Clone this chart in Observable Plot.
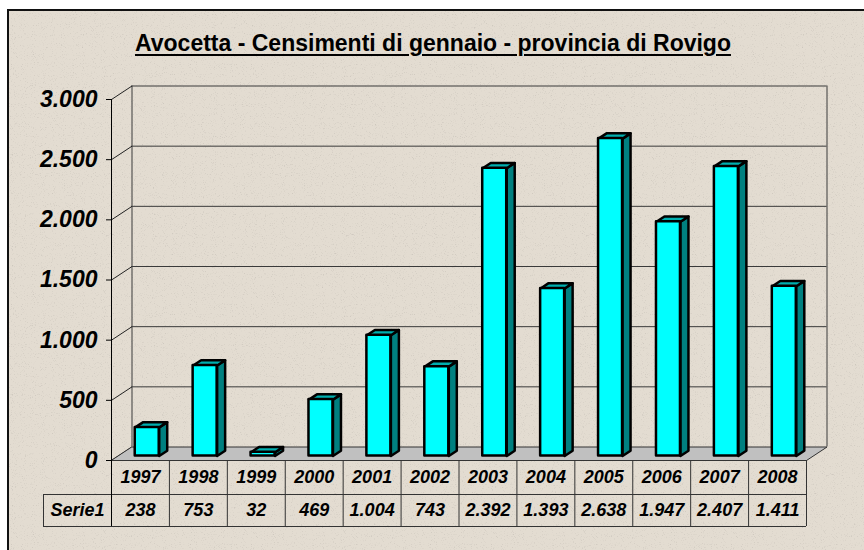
<!DOCTYPE html>
<html><head><meta charset="utf-8">
<script src="https://cdn.jsdelivr.net/npm/d3@7"></script>
<script src="https://cdn.jsdelivr.net/npm/@observablehq/plot@0.6"></script>
<style>
html,body{margin:0;padding:0;background:#fff;}
#wrap{position:relative;width:864px;height:550px;overflow:hidden;}
#frame{position:absolute;left:7px;top:9px;width:900px;height:600px;border-left:2px solid #111;border-top:2px solid #111;background-color:#E3DCD1;
background-image:url("data:image/svg+xml,%3Csvg xmlns='http://www.w3.org/2000/svg' width='240' height='240'%3E%3Cfilter id='n'%3E%3CfeTurbulence type='fractalNoise' baseFrequency='0.9' numOctaves='2' seed='7'/%3E%3CfeColorMatrix type='matrix' values='0 0 0 0 0.45 0 0 0 0 0.42 0 0 0 0 0.38 3 0 0 0 -1.75'/%3E%3C/filter%3E%3Crect width='100%25' height='100%25' filter='url(%23n)' opacity='0.5'/%3E%3C/svg%3E");}
#title{position:absolute;left:0;width:866px;top:30px;line-height:23px;text-align:center;font:bold 23px "Liberation Sans",Arial,sans-serif;color:#000;text-decoration:underline;text-decoration-thickness:2px;text-underline-offset:3px;}
#chart{position:absolute;left:0;top:0;}
</style>
</head><body>
<div id="wrap"><div id="frame"></div><div id="title">Avocetta - Censimenti di gennaio - provincia di Rovigo</div><div id="chart"></div></div>
<script>
// ---- data ----
const years = ["1997","1998","1999","2000","2001","2002","2003","2004","2005","2006","2007","2008"];
const counts = [238, 753, 32, 469, 1004, 743, 2392, 1393, 2638, 1947, 2407, 1411];
const yTicks = [0, 500, 1000, 1500, 2000, 2500, 3000];
const seriesName = "Serie1";

// ---- layout ----
const W = 864, H = 550, mL = 111, mR = 58, mT = 99, mB = 90;
const n = years.length;
const colW = (W - mL - mR) / n;          // px per category
const kY = (H - mT - mB) / 3000;          // px per unit
const DX = 20.5 / colW, DY = 13.5 / kY;   // depth offset in data units
const t0 = 0.33, t1 = 0.72;               // bar depth position
const hw = 12 / colW;                     // half bar width
const row1Bottom = -34 / kY, row2Bottom = -66 / kY;
const row1Text = -17 / kY, row2Text = -50 / kY;
const serieLeft = -68 / colW;

const fmt = d3.formatLocale({decimal: ",", thousands: ".", grouping: [3], currency: ["€", ""]}).format(",d");

const idx = d3.range(n);
const P = (i, v, t) => ({x: i + t * DX, y: v + t * DY});

const floorPts = [P(0,0,0), P(n,0,0), P(n,0,1), P(0,0,1)];
const sidePts = idx.flatMap(i => {
  const xr = i + 0.5 + hw, v = counts[i];
  return [P(xr,0,t0), P(xr,0,t1), P(xr,v,t1), P(xr,v,t0)].map(p => ({...p, z: i}));
});
const topPts = idx.flatMap(i => {
  const xl = i + 0.5 - hw, xr = i + 0.5 + hw, v = counts[i];
  return [P(xl,v,t0), P(xr,v,t0), P(xr,v,t1), P(xl,v,t1)].map(p => ({...p, z: i}));
});

const grid = "#3a3a3a";
const txt = {fontWeight: "bold", fontStyle: "italic", fill: "#000"};

const chart = Plot.plot({
  width: W, height: H,
  marginLeft: mL, marginRight: mR, marginTop: mT, marginBottom: mB,
  style: {background: "transparent", fontFamily: "'Liberation Sans', Arial, sans-serif", overflow: "visible"},
  x: {domain: [0, n], axis: null},
  y: {domain: [0, 3000]},
  marks: [
    // back wall gridlines and edges
    Plot.ruleY(yTicks.filter(v => v > 0), {y: v => v + DY, x1: () => DX, x2: () => n + DX, stroke: grid, strokeWidth: 1}),
    Plot.ruleX([DX, n + DX], {x: d => d, y1: () => DY, y2: () => 3000 + DY, stroke: grid, strokeWidth: 1}),
    // left wall diagonals
    Plot.link(yTicks, {x1: () => 0, y1: v => v, x2: () => DX, y2: v => v + DY, stroke: "#222", strokeWidth: 1}),
    // floor
    Plot.line(floorPts, {x: "x", y: "y", curve: "linear-closed", fill: "#C0C0C0", stroke: "#333", strokeWidth: 1}),
    // data table grid
    Plot.ruleX(d3.range(1, n + 1), {x: d => d, y1: () => row2Bottom, y2: () => 0, stroke: "#333", strokeWidth: 1}),
    Plot.ruleX([serieLeft], {x: d => d, y1: () => row2Bottom, y2: () => row1Bottom, stroke: "#333", strokeWidth: 1}),
    Plot.ruleY([row1Bottom, row2Bottom], {y: d => d, x1: () => serieLeft, x2: () => n, stroke: "#333", strokeWidth: 1}),
    // front value axis line
    Plot.ruleX([0], {x: d => d, y1: () => row2Bottom, y2: () => 3000, stroke: "#000", strokeWidth: 1}),
    // bars: side, top, front
    Plot.line(sidePts, {x: "x", y: "y", z: "z", curve: "linear-closed", fill: "#008080", stroke: "#000", strokeWidth: 2.5, strokeLinejoin: "round"}),
    Plot.line(topPts, {x: "x", y: "y", z: "z", curve: "linear-closed", fill: "#00AFAF", stroke: "#000", strokeWidth: 2.5, strokeLinejoin: "round"}),
    Plot.rect(idx, {
      x1: i => i + 0.5 - hw + t0 * DX, x2: i => i + 0.5 + hw + t0 * DX,
      y1: () => t0 * DY, y2: i => counts[i] + t0 * DY,
      fill: "#00FFFF", stroke: "#000", strokeWidth: 2.5, strokeLinejoin: "round"
    }),
    // y axis
    Plot.axisY(yTicks, {anchor: "left", label: null, tickFormat: fmt, tickSize: 5, tickPadding: 9, fontSize: 23, stroke: "#000", ...txt}),
    // table text
    Plot.text(years, {x: (d, i) => i + 0.5, y: () => row1Text, text: d => d, fontSize: 18, ...txt}),
    Plot.text(counts, {x: (d, i) => i + 0.5, y: () => row2Text, text: d => fmt(d), fontSize: 18, ...txt}),
    Plot.text([seriesName], {x: () => serieLeft / 2, y: () => row2Text, text: d => d, fontSize: 18, ...txt})
  ]
});
document.getElementById("chart").appendChild(chart);
</script>
</body></html>
